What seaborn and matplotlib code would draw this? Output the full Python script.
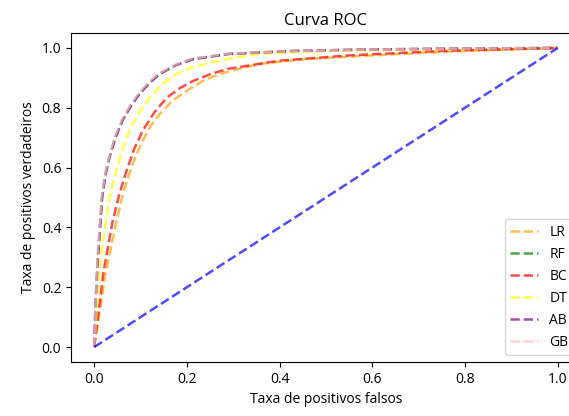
import matplotlib
matplotlib.use("Agg")
import matplotlib.pyplot as plt
import seaborn as sns

# ROC curve points
lr_fpr = [0, 0.01, 0.025, 0.044, 0.06, 0.076, 0.09, 0.105, 0.122, 0.142, 0.17, 0.2, 0.235, 0.272, 0.32, 0.36, 0.46, 0.6, 0.8, 1.0]
lr_tpr = [0, 0.10, 0.25, 0.39, 0.50, 0.58, 0.64, 0.69, 0.74, 0.78, 0.825, 0.857, 0.89, 0.914, 0.933, 0.947, 0.963, 0.975, 0.99, 1.0]

rf_fpr = [0, 0.003, 0.008, 0.017, 0.024, 0.033, 0.045, 0.06, 0.078, 0.097, 0.12, 0.14, 0.175, 0.21, 0.29, 0.43, 0.6, 0.8, 1.0]
rf_tpr = [0, 0.15, 0.30, 0.50, 0.575, 0.635, 0.70, 0.757, 0.805, 0.847, 0.885, 0.912, 0.942, 0.962, 0.98, 0.99, 0.995, 0.998, 1.0]

bc_fpr = [0, 0.008, 0.02, 0.039, 0.054, 0.07, 0.087, 0.105, 0.13, 0.157, 0.185, 0.214, 0.25, 0.288, 0.397, 0.55, 0.75, 1.0]
bc_tpr = [0, 0.10, 0.25, 0.415, 0.51, 0.59, 0.665, 0.724, 0.785, 0.834, 0.866, 0.89, 0.912, 0.93, 0.957, 0.975, 0.99, 1.0]

dt_fpr = [0, 0.005, 0.012, 0.026, 0.036, 0.048, 0.062, 0.076, 0.097, 0.12, 0.148, 0.179, 0.21, 0.25, 0.3, 0.36, 0.5, 0.7, 1.0]
dt_tpr = [0, 0.12, 0.27, 0.435, 0.52, 0.59, 0.665, 0.724, 0.785, 0.834, 0.88, 0.914, 0.935, 0.95, 0.967, 0.98, 0.99, 0.995, 1.0]

ab_fpr = [0, 0.003, 0.008, 0.017, 0.024, 0.033, 0.046, 0.061, 0.079, 0.098, 0.12, 0.142, 0.175, 0.214, 0.29, 0.43, 0.6, 0.8, 1.0]
ab_tpr = [0, 0.15, 0.30, 0.50, 0.575, 0.635, 0.70, 0.757, 0.805, 0.847, 0.884, 0.914, 0.942, 0.963, 0.98, 0.99, 0.995, 0.998, 1.0]

gb_fpr = [0, 0.003, 0.007, 0.016, 0.023, 0.032, 0.044, 0.059, 0.077, 0.096, 0.118, 0.14, 0.174, 0.21, 0.29, 0.43, 0.6, 0.8, 1.0]
gb_tpr = [0, 0.15, 0.30, 0.50, 0.575, 0.635, 0.70, 0.757, 0.806, 0.848, 0.886, 0.915, 0.943, 0.964, 0.981, 0.99, 0.995, 0.998, 1.0]

rand_fpr = [0, 1]
rand_tpr = [0, 1]

models = ['LR', 'RF', 'BC', 'DT', 'AB', 'GB']
colors = ['orange', 'green', 'red', 'yellow', 'purple', 'pink']
curves = [(lr_fpr, lr_tpr), (rf_fpr, rf_tpr), (bc_fpr, bc_tpr),
          (dt_fpr, dt_tpr), (ab_fpr, ab_tpr), (gb_fpr, gb_tpr)]

plt.rcParams['font.family'] = ['Open Sans', 'DejaVu Sans']
plt.rcParams['font.size'] = 10

fig = plt.figure(figsize=(5.69, 4.16), dpi=100)
# axes run past the right edge, as in the cropped reference
ax = fig.add_axes([0.1248, 0.1298, 0.896, 0.7909])

for name, col, (fpr, tpr) in zip(models, colors, curves):
    sns.lineplot(x=fpr, y=tpr, ax=ax, color=col, linestyle='--', alpha=0.7,
                 linewidth=1.8, label=name, sort=False, estimator=None)

sns.lineplot(x=rand_fpr, y=rand_tpr, ax=ax, color='blue', linestyle='--',
             alpha=0.7, linewidth=1.8, sort=False, estimator=None)

ax.set_title('Curva ROC')
ax.set_xlabel('Taxa de positivos falsos')
ax.set_ylabel('Taxa de positivos verdadeiros')
ax.legend(loc='lower right')

fig.savefig('out.png', dpi=100)
